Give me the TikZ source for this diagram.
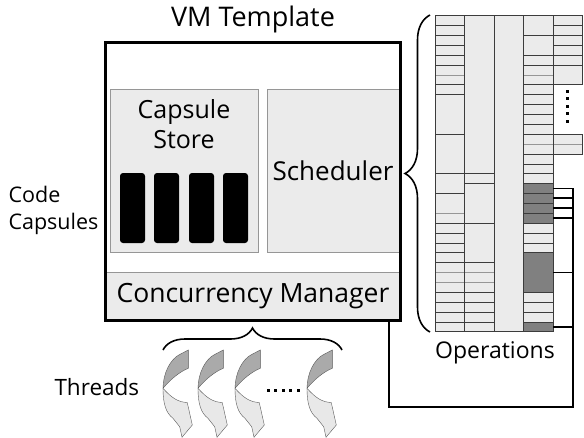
\documentclass[tikz,border=0pt]{standalone}
\usepackage{fontspec}
\setmainfont{Open Sans}
\usepackage{tikz}
\usetikzlibrary{positioning}
\usetikzlibrary{decorations.pathreplacing}

\definecolor{panel}{RGB}{235,235,235}
\definecolor{rule}{RGB}{150,150,150}
\definecolor{cellline}{RGB}{60,60,60}
\definecolor{busy}{RGB}{128,128,128}
\definecolor{backface}{RGB}{170,170,170}
\definecolor{frontface}{RGB}{232,232,232}
\definecolor{arrowline}{RGB}{90,90,90}

\tikzset{
  panelbox/.style={draw=rule, fill=panel, inner sep=0pt, outer sep=0pt},
  capsule/.style={fill=black, rounded corners=3pt, minimum width=25pt, minimum height=70pt, inner sep=0pt},
  bigtext/.style={font=\fontsize{#1}{30}\selectfont},
  bigtext/.default=23,
  smalltext/.style={font=\fontsize{21.5}{27}\selectfont},
  wire/.style={line width=1.6pt},
  bracket/.style={decorate, line width=1.6pt},
}

\begin{document}
\begin{tikzpicture}[x=1pt, y=-1pt]
    \useasboundingbox (0,0) rectangle (584,437);

    % the VM template
    \node [panelbox, minimum width=148pt, minimum height=163pt] (store) at (184,170.5) {};
    \node [bigtext=25, align=center] (storetext) at (184,124) {Capsule\\Store};
    \foreach \x [count=\i] in {132.5,166.5,201.5,235.5}
        \node [capsule] (cap\i) at (\x,208) {};
    \node [panelbox, bigtext=26, minimum width=132pt, minimum height=163pt] (sched) at (333,170.5) {Scheduler};
    \node [panelbox, bigtext=26.5, minimum width=296pt, minimum height=49pt] (conc) at (253,296.5) {Concurrency Manager};
    \node [draw, line width=2.7pt, minimum width=295.4pt, minimum height=278.4pt, inner sep=0pt, outer sep=0pt] (vm) at (253,181.5) {};
    \node [bigtext=27] (title) at (253,19) {VM Template};
    \node [smalltext, align=left, anchor=west] (code) at (5,210) {Code\\Capsules};

    % operations table
    \begin{scope}[shift={(435,15.5)}, x=29.5pt, y=-9.88pt]
        \foreach \c in {0,...,3}
            \fill [panel] (\c,0) rectangle (\c+1,32);
        \fill [panel] (4,0) rectangle (5,7);
        \fill [panel] (4,12) rectangle (5,14);
        \fill [busy] (3,17) rectangle (4,21);
        \fill [busy] (3,24) rectangle (4,28);
        \fill [busy] (3,31) rectangle (4,32);
        \foreach \r in {1,...,5,7,8,12,16,18,21,22,23,24,25,28,29,30,31}
            \draw [cellline] (0,\r) -- (1,\r);
        \foreach \r in {16,17,21,25,28,29,30,31}
            \draw [cellline] (1,\r) -- (2,\r);
        \foreach \r in {2,4,5,7,8,...,12,14,15,...,24,28,29,30,31}
            \draw [cellline] (3,\r) -- (4,\r);
        \foreach \r in {1,...,5}
            \draw [cellline] (4,\r) -- (5,\r);
        \foreach \r in {6,20,26,27}
            \draw [rule] (0,\r) -- (1,\r);
        \foreach \r in {26,27}
            \draw [rule] (1,\r) -- (2,\r);
        \draw [rule] (3,6) -- (4,6);
        \draw [rule] (3,13) -- (5,13);
        \foreach \c in {0,...,3}
            \draw [cellline] (\c,0) rectangle (\c+1,32);
        \draw [cellline] (4,0) rectangle (5,7);
        \draw [cellline] (4,12) rectangle (5,14);
        \coordinate (op1) at (4,17.5);
        \coordinate (op2) at (4,18.5);
        \coordinate (op3) at (4,19.5);
        \coordinate (op4) at (4,20.5);
        \coordinate (op5) at (4,26);
        \coordinate (op6) at (4,31.5);
    \end{scope}
    \foreach \y in {91,98.5,106,113.5,121}
        \fill (566.2,\y-1.5) rectangle ++(3,3);
    \node [bigtext] (ops) at (495,353) {Operations};
    \draw [bracket, decoration={brace, amplitude=25pt}] (430,332) -- (430,15);

    % wiring from the concurrency manager
    \coordinate (tap) at (389,0);
    \coordinate (bus) at (573,407);
    \draw [wire] (vm.south -| tap) |- (bus) -- (bus |- op1);
    \foreach \i in {1,...,6}
        \draw [wire] (op\i) -- (op\i -| bus);

    % threads
    \draw [bracket, decoration={brace, amplitude=22pt}] (163,350) -- (342,350);
    \node [bigtext=22.5, anchor=west] (threads) at (51,387) {Threads};
    \foreach \x in {163,198,235,307} {
        \begin{scope}[shift={(\x,350)}]
            \filldraw [draw=arrowline, fill=backface] (25.3,0) -- (25.3,18.3) .. controls (16,22) and (7,30) .. (0,38.3) .. controls (0,24) and (7,9) .. (17,4.3) -- cycle;
            \filldraw [draw=arrowline, fill=frontface] (0,38.3) .. controls (6,45) and (12,50) .. (18.3,51.7) -- (24.3,52.7) -- (29.3,75) -- (19,87.3) -- (16.7,76.7) -- (10,68.3) .. controls (3,63) and (0,54) .. (0,38.3) -- cycle;
        \end{scope}
    }
    \foreach \x in {268,275.5,283,290.5,298}
        \fill (\x-1.5,388.5) rectangle ++(3,3);
\end{tikzpicture}
\end{document}
